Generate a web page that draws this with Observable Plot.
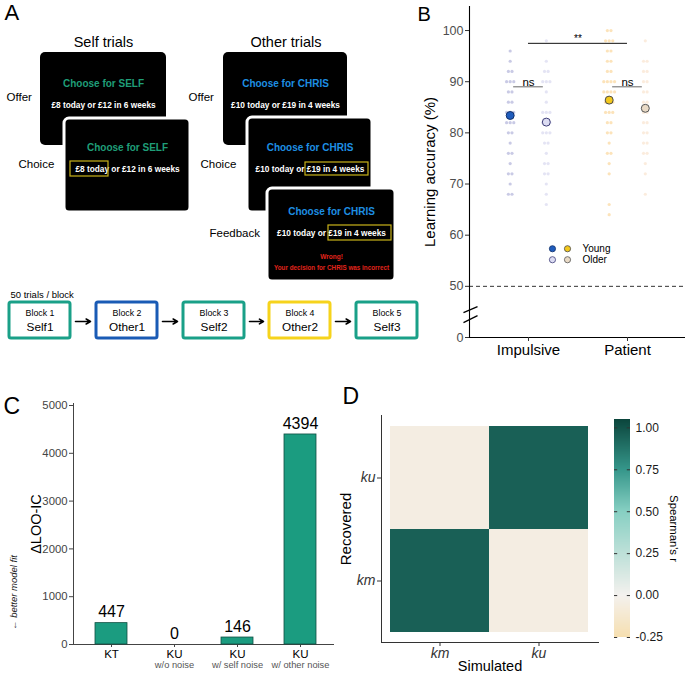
<!DOCTYPE html>
<html><head><meta charset="utf-8">
<script src="https://cdn.jsdelivr.net/npm/d3@7"></script>
<script src="https://cdn.jsdelivr.net/npm/@observablehq/plot@0.6"></script>
<style>
body{margin:0;background:#fff;}
#fig{position:relative;width:685px;height:674px;overflow:hidden;background:#fff;}
.panel{position:absolute;}
.panel svg{overflow:visible;}
</style></head><body><div id="fig"></div>
<script>
// ================= DATA =================
// Panel A (task schematic)
const trialTypes = ["Self trials", "Other trials"];
const stageNames = ["Offer", "Choice", "Offer", "Choice", "Feedback"];
const screenTitles = ["Choose for SELF", "Choose for SELF", "Choose for CHRIS", "Choose for CHRIS", "Choose for CHRIS"];
const screenOffers = ["£8 today or £12 in 6 weeks", "£8 today or £12 in 6 weeks", "£10 today or £19 in 4 weeks", "£10 today or £19 in 4 weeks", "£10 today or £19 in 4 weeks"];
const feedbackLines = ["Wrong!", "Your decision for CHRIS was incorrect"];
const blockNote = "50 trials / block";
const blockLabels = ["Block 1", "Block 2", "Block 3", "Block 4", "Block 5"];
const blockNames = ["Self1", "Other1", "Self2", "Other2", "Self3"];
const blockKinds = ["self", "other1", "self", "other2", "self"];

// Panel B (learning accuracy, %)
const accCategories = ["Impulsive", "Patient"];
const ageGroups = ["Young", "Older"];
const accImpulsiveYoung = [96,94,92,92,90,90,90,88,88,86,86,84,84,84,82,82,82,80,80,78,76,76,74,72,72,70,68,68];
const accImpulsiveOlder = [98,94,92,92,90,90,90,88,86,84,84,84,82,82,82,80,80,80,78,78,76,74,74,72,72,70,68,66];
const accPatientYoung = [100,100,98,98,98,96,96,94,94,92,92,90,90,90,90,88,88,88,88,86,86,86,84,84,84,82,82,80,80,78,76,76,74,72,66,64];
const accPatientOlder = [98,94,94,92,92,90,90,88,88,86,86,84,84,82,82,80,80,78,78,76,76,74,72,68];
const accMeans = [83.4, 82.1, 86.4, 84.8]; // Imp-Young, Imp-Older, Pat-Young, Pat-Older
const accTicks = [40, 50, 60, 70, 80, 90, 100];
const accTickLabels = ["0", "50", "60", "70", "80", "90", "100"];
const chanceLevel = 50;
const sigTests = [
  {label: "**", from: 0, to: 1, level: 97.5},
  {label: "ns", from: -0.15, to: 0.15, level: 89},
  {label: "ns", from: 0.85, to: 1.15, level: 89}
];

// Panel C (model comparison)
const modelIds = ["KT", "KU w/o noise", "KU w/ self noise", "KU w/ other noise"];
const modelMain = ["KT", "KU", "KU", "KU"];
const modelSub = ["", "w/o noise", "w/ self noise", "w/ other noise"];
const deltaLooic = [447, 0, 146, 4394];
const looTicks = [0, 1000, 2000, 3000, 4000, 5000];

// Panel D (parameter recovery)
const paramNames = ["km", "ku"];
const simulated = ["km", "km", "ku", "ku"];
const recovered = ["km", "ku", "km", "ku"];
const spearmanR = [0.95, -0.05, -0.05, 0.95];
const cbTicks = [-0.25, 0, 0.25, 0.5, 0.75, 1.0];
const cbTickLabels = ["-0.25", "0.00", "0.25", "0.50", "0.75", "1.00"];

// ================= STYLE / LAYOUT =================
const FONT = '"Liberation Sans", Arial, Helvetica, sans-serif';
const INK = "black";
const selfColor = "#1f9e78", otherColor = "#1e8fe3";
const blockColor = {self: "#1aa088", other1: "#1a5bb5", other2: "#f6d31c"};
const fig = document.getElementById("fig");
function mount(node, left, top, w, h) {
  const d = document.createElement("div");
  d.className = "panel";
  Object.assign(d.style, {left: left + "px", top: top + "px", width: w + "px", height: h + "px"});
  d.appendChild(node); fig.appendChild(d);
}
const baseStyle = {background: "transparent", fontFamily: FONT, overflow: "visible"};

// ---------- Panel A ----------
const screenBoxes = [
  {x1: 40, y1: 52, x2: 166, y2: 145, outline: false, tdy: 31, ody: 53},
  {x1: 64, y1: 118, x2: 190, y2: 212, outline: true, tdy: 29, ody: 51},
  {x1: 223, y1: 52, x2: 347, y2: 145, outline: false, tdy: 31, ody: 53},
  {x1: 247, y1: 117, x2: 372, y2: 212, outline: true, tdy: 30, ody: 52},
  {x1: 267, y1: 188, x2: 395, y2: 281, outline: true, tdy: 23, ody: 45}
];
const screens = screenBoxes.map((s, i) => ({...s, cx: (s.x1 + s.x2) / 2, title: screenTitles[i], offer: screenOffers[i], color: i < 2 ? selfColor : otherColor}));
const highlights = [
  {x1: 70, y1: 161, x2: 108, y2: 176},
  {x1: 305, y1: 162, x2: 368, y2: 175},
  {x1: 328, y1: 225, x2: 391, y2: 240}
];
const headPos = [{x: 103, y: 42}, {x: 285.5, y: 42}];
const stagePos = [{x: 6, y: 97}, {x: 18, y: 164}, {x: 188, y: 97}, {x: 200, y: 164}, {x: 209, y: 233}];
const fbPos = [{y: 256}, {y: 267}];
const blockX = [9, 96, 183, 269, 356], blockW = 61, blockY1 = 302, blockY2 = 338;
const blocks = blockLabels.map((b, i) => ({label: b, name: blockNames[i], color: blockColor[blockKinds[i]], x1: blockX[i], x2: blockX[i] + blockW, cx: blockX[i] + blockW / 2}));
const arrowsA = blocks.slice(0, -1).map((b, i) => ({x1: b.x2 + 5, x2: blocks[i + 1].x1 - 6, y: 321}));

const plotA = Plot.plot({
  width: 430, height: 360, margin: 0,
  x: {domain: [0, 430], range: [0, 430], axis: null},
  y: {domain: [0, 360], range: [0, 360], axis: null},
  style: baseStyle,
  marks: [
    Plot.text(["A"], {x: () => 4, y: () => 12, textAnchor: "start", fontSize: 22, fill: INK}),
    Plot.text(trialTypes, {x: (d, i) => headPos[i].x, y: (d, i) => headPos[i].y, fontSize: 14.5, fill: INK}),
    Plot.text(stageNames, {x: (d, i) => stagePos[i].x, y: (d, i) => stagePos[i].y, textAnchor: "start", fontSize: 11.5, fill: INK}),
    Plot.rect(screens, {x1: "x1", x2: "x2", y1: "y1", y2: "y2", fill: "black", stroke: d => d.outline ? "white" : "none", strokeWidth: 3, rx: 5}),
    Plot.text(screens, {x: "cx", y: d => d.y1 + d.tdy, text: "title", fill: "color", fontWeight: "bold", fontSize: 10}),
    Plot.text(screens, {x: "cx", y: d => d.y1 + d.ody, text: "offer", fill: "white", fontWeight: "bold", fontSize: 8.3}),
    Plot.rect(highlights, {x1: "x1", x2: "x2", y1: "y1", y2: "y2", fill: "none", stroke: "#c9b31a", strokeWidth: 1.2}),
    Plot.text(feedbackLines, {x: () => screens[4].cx, y: (d, i) => fbPos[i].y, fill: "#e3241b", fontWeight: "bold", fontSize: (d, i) => i ? 6.3 : 6.5}),
    Plot.text([blockNote], {x: () => 10, y: () => 294, textAnchor: "start", fontSize: 9.5, fill: INK}),
    Plot.rect(blocks, {x1: "x1", x2: "x2", y1: () => blockY1, y2: () => blockY2, fill: "white", stroke: "color", strokeWidth: 3, rx: 2}),
    Plot.text(blocks, {x: "cx", y: () => 313, text: "label", fontSize: 8.8, fill: INK}),
    Plot.text(blocks, {x: "cx", y: () => 327, text: "name", fontSize: 11.8, fill: INK}),
    Plot.arrow(arrowsA, {x1: "x1", x2: "x2", y1: "y", y2: "y", stroke: "black", strokeWidth: 1.6, headLength: 6})
  ]
});
mount(plotA, 0, 0, 430, 360);

// ---------- Panel B ----------
const xMinB = -0.596, xMaxB = 1.586, pxB = 99; // 99 px per category unit
const groupOffset = {Young: -0.185, Older: 0.18};
const groupStyle = [
  {cat: 0, age: "Young", vals: accImpulsiveYoung, pt: "#4b50a8", ptOp: 0.3, fill: "#1f5cbc", stroke: "#12306a"},
  {cat: 0, age: "Older", vals: accImpulsiveOlder, pt: "#8d90d2", ptOp: 0.24, fill: "#dcdcf2", stroke: "#3e3e78"},
  {cat: 1, age: "Young", vals: accPatientYoung, pt: "#f4a11a", ptOp: 0.3, fill: "#f3c81c", stroke: "#4a4a4a"},
  {cat: 1, age: "Older", vals: accPatientOlder, pt: "#f1b57c", ptOp: 0.26, fill: "#e9dac6", stroke: "#555555"}
];
const pointsB = [];
groupStyle.forEach((g, gi) => {
  const counts = {}, seen = {};
  g.vals.forEach(v => counts[v] = (counts[v] || 0) + 1);
  g.vals.forEach(v => {
    const k = seen[v] = (seen[v] || 0) + 1;
    pointsB.push({g: gi, y: v, x: g.cat + groupOffset[g.age] + (k - 1 - (counts[v] - 1) / 2) * 3.6 / pxB, color: g.pt, op: g.ptOp});
  });
});
const meansB = groupStyle.map((g, i) => ({x: g.cat + groupOffset[g.age], y: accMeans[i], fill: g.fill, stroke: g.stroke}));
const legendB = [
  {x: 0.242, y: 57.35, fill: groupStyle[0].fill, stroke: groupStyle[0].stroke},
  {x: 0.394, y: 57.35, fill: groupStyle[2].fill, stroke: groupStyle[2].stroke},
  {x: 0.242, y: 55.2, fill: groupStyle[1].fill, stroke: groupStyle[1].stroke},
  {x: 0.394, y: 55.2, fill: groupStyle[3].fill, stroke: groupStyle[3].stroke}
];
const breakMarks = [
  {x1: -0.657, y1: 44.87, x2: -0.515, y2: 46.04},
  {x1: -0.657, y1: 42.92, x2: -0.515, y2: 44.29}
];
const plotB = Plot.plot({
  width: 345, height: 360, marginLeft: 129, marginRight: 0, marginTop: 6, marginBottom: 23,
  x: {domain: [xMinB, xMaxB], axis: null},
  y: {domain: [40, 104.7], axis: null},
  style: baseStyle,
  marks: [
    Plot.ruleY([chanceLevel], {stroke: "#333", strokeDasharray: "4,3", strokeWidth: 1}),
    Plot.dot(pointsB, {x: "x", y: "y", r: 1.6, fill: "color", fillOpacity: "op", stroke: "none"}),
    Plot.ruleX([xMinB], {stroke: INK, strokeWidth: 1.1}),
    Plot.ruleY([40], {stroke: INK, strokeWidth: 1.1}),
    Plot.ruleY(accTicks, {x1: xMinB - 4 / pxB, x2: xMinB, stroke: "#333"}),
    Plot.text(accTicks, {x: xMinB, y: d => d, text: (d, i) => accTickLabels[i], textAnchor: "end", dx: -6, fill: "#4d4d4d", fontSize: 12.5}),
    Plot.ruleX([0, 1], {y1: 40, y2: 40 - 4 / 5.13, stroke: "#333"}),
    Plot.text(accCategories, {x: (d, i) => i, y: () => 40, dy: 13, fontSize: 15, fill: INK}),
    Plot.link(breakMarks, {x1: "x1", y1: "y1", x2: "x2", y2: "y2", stroke: INK, strokeWidth: 1.3}),
    Plot.ruleY(sigTests, {x1: "from", x2: "to", y: "level", stroke: d => d.label === "**" ? "#111" : "#666", strokeWidth: 1}),
    Plot.text(sigTests, {x: d => (d.from + d.to) / 2, y: "level", text: "label", lineAnchor: "bottom", dy: -1, fontSize: d => d.label === "**" ? 10 : 11.5, fill: INK}),
    Plot.dot(meansB, {x: "x", y: "y", r: 4, fill: "fill", stroke: "stroke", strokeWidth: 1}),
    Plot.dot(legendB, {x: "x", y: "y", r: 3.1, fill: "fill", stroke: "stroke", strokeWidth: 0.8}),
    Plot.text(ageGroups, {x: () => 0.545, y: (d, i) => i ? 55.2 : 57.35, textAnchor: "start", fontSize: 10, fill: INK}),
    Plot.text(["Learning accuracy (%)"], {frameAnchor: "left", dx: -39, rotate: -90, textAnchor: "middle", lineAnchor: "middle", fontSize: 15, fill: INK}),
    Plot.text(["B"], {frameAnchor: "top-left", dx: -52, dy: 0, textAnchor: "start", lineAnchor: "top", fontSize: 20, fill: INK})
  ]
});
mount(plotB, 340, 0, 345, 360);

// ---------- Panel C ----------
const modelData = modelIds.map((m, i) => ({id: m, main: modelMain[i], sub: modelSub[i], value: deltaLooic[i]}));
const plotC = Plot.plot({
  width: 340, height: 314, marginLeft: 73, marginRight: 7, marginTop: 43, marginBottom: 30,
  x: {type: "band", domain: modelIds, range: [79.5, 331.5], paddingInner: 0.49, paddingOuter: 0.245, line: true, tickSize: 3, tickFormat: () => "", label: null},
  y: {domain: [0, 5042], ticks: looTicks, tickFormat: d => String(d), tickSize: 4, tickPadding: 2, line: true, label: null},
  style: {...baseStyle, fontSize: "11.3px", color: "#444"},
  marks: [
    Plot.barY(modelData, {x: "id", y: "value", fill: "#1b9c80", stroke: "#0f4f42", strokeWidth: 0.8}),
    Plot.text(modelData, {x: "id", y: "value", text: d => String(d.value), dy: -11, fontSize: 16, fill: INK}),
    Plot.text(modelData, {x: "id", y: () => 0, text: "main", dy: 10, fontSize: 11.5, fill: INK}),
    Plot.text(modelData, {x: "id", y: () => 0, text: "sub", dy: 20.5, fontSize: 9.3, fill: "#555"}),
    Plot.text(["ΔLOO-IC"], {frameAnchor: "left", dx: -37, rotate: -90, textAnchor: "middle", lineAnchor: "middle", fontSize: 14.5, fill: INK}),
    Plot.text(["← better model fit"], {frameAnchor: "left", y: () => 1088, dx: -60, rotate: -90, textAnchor: "middle", lineAnchor: "middle", fontSize: 9.5, fontStyle: "italic", fill: "#222"}),
    Plot.text(["C"], {frameAnchor: "top-left", dx: -70, dy: -6, textAnchor: "start", lineAnchor: "top", fontSize: 23, fill: INK})
  ]
});
mount(plotC, 0, 360, 340, 314);

// ---------- Panel D ----------
const colorSpec = {type: "linear", domain: [-0.25, 0, 0.5, 0.75, 1.05], range: ["#f6dfb0", "#f4f1ee", "#86cfc2", "#35968a", "#0b453c"], interpolate: "rgb"};
const corr = simulated.map((s, i) => ({sim: s, rec: recovered[i], r: spearmanR[i]}));
const plotD = Plot.plot({
  width: 345, height: 314, marginLeft: 41, marginRight: 87, marginTop: 55, marginBottom: 32,
  x: {type: "band", domain: paramNames, range: [50, 248], padding: 0, line: true, tickSize: 4, tickPadding: 2, label: null},
  y: {type: "band", domain: paramNames.slice().reverse(), range: [65, 272], padding: 0, line: true, tickSize: 4, tickPadding: 2, label: null},
  color: colorSpec,
  style: {...baseStyle, fontSize: "14px", fontStyle: "italic", color: "#333"},
  marks: [
    Plot.cell(corr, {x: "sim", y: "rec", fill: "r", inset: 0}),
    Plot.text(["Simulated"], {frameAnchor: "bottom", dy: 23.5, textAnchor: "middle", lineAnchor: "middle", fontSize: 14.5, fontStyle: "normal", fill: INK}),
    Plot.text(["Recovered"], {frameAnchor: "left", dx: -35, rotate: -90, textAnchor: "middle", lineAnchor: "middle", fontSize: 15, fontStyle: "normal", fill: INK}),
    Plot.text(["D"], {frameAnchor: "top-left", dx: -39, dy: -28, textAnchor: "start", lineAnchor: "top", fontSize: 23, fontStyle: "normal", fill: INK})
  ]
});
mount(plotD, 340, 360, 345, 314);

// ---------- Colour bar ----------
const cbStep = 0.006;
const cbSlices = d3.range(-0.25, 1.05, cbStep);
const plotCB = Plot.plot({
  width: 85, height: 250, margin: 0,
  x: {domain: [0, 1], range: [14, 30], axis: null},
  y: {domain: [-0.25, 1.05], range: [237, 19], axis: null},
  color: colorSpec,
  style: baseStyle,
  marks: [
    Plot.rect(cbSlices, {x1: () => 0, x2: () => 1, y1: d => d, y2: d => Math.min(1.05, d + cbStep * 1.5), fill: d => d + cbStep / 2, shapeRendering: "crispEdges"}),
    Plot.ruleY(cbTicks, {x1: () => 0, x2: () => 0.2, stroke: "#333", strokeWidth: 1}),
    Plot.ruleY(cbTicks, {x1: () => 0.8, x2: () => 1, stroke: "#333", strokeWidth: 1}),
    Plot.text(cbTicks, {x: () => 1, y: d => d, text: (d, i) => cbTickLabels[i], dx: 5, textAnchor: "start", fontSize: 12, fill: "#1a1a1a"}),
    Plot.text(["Spearman's r"], {frameAnchor: "left", dx: 73, dy: 3, rotate: 90, textAnchor: "middle", lineAnchor: "middle", fontSize: 11.3, fill: INK})
  ]
});
mount(plotCB, 600, 400, 85, 250);
</script></body></html>
